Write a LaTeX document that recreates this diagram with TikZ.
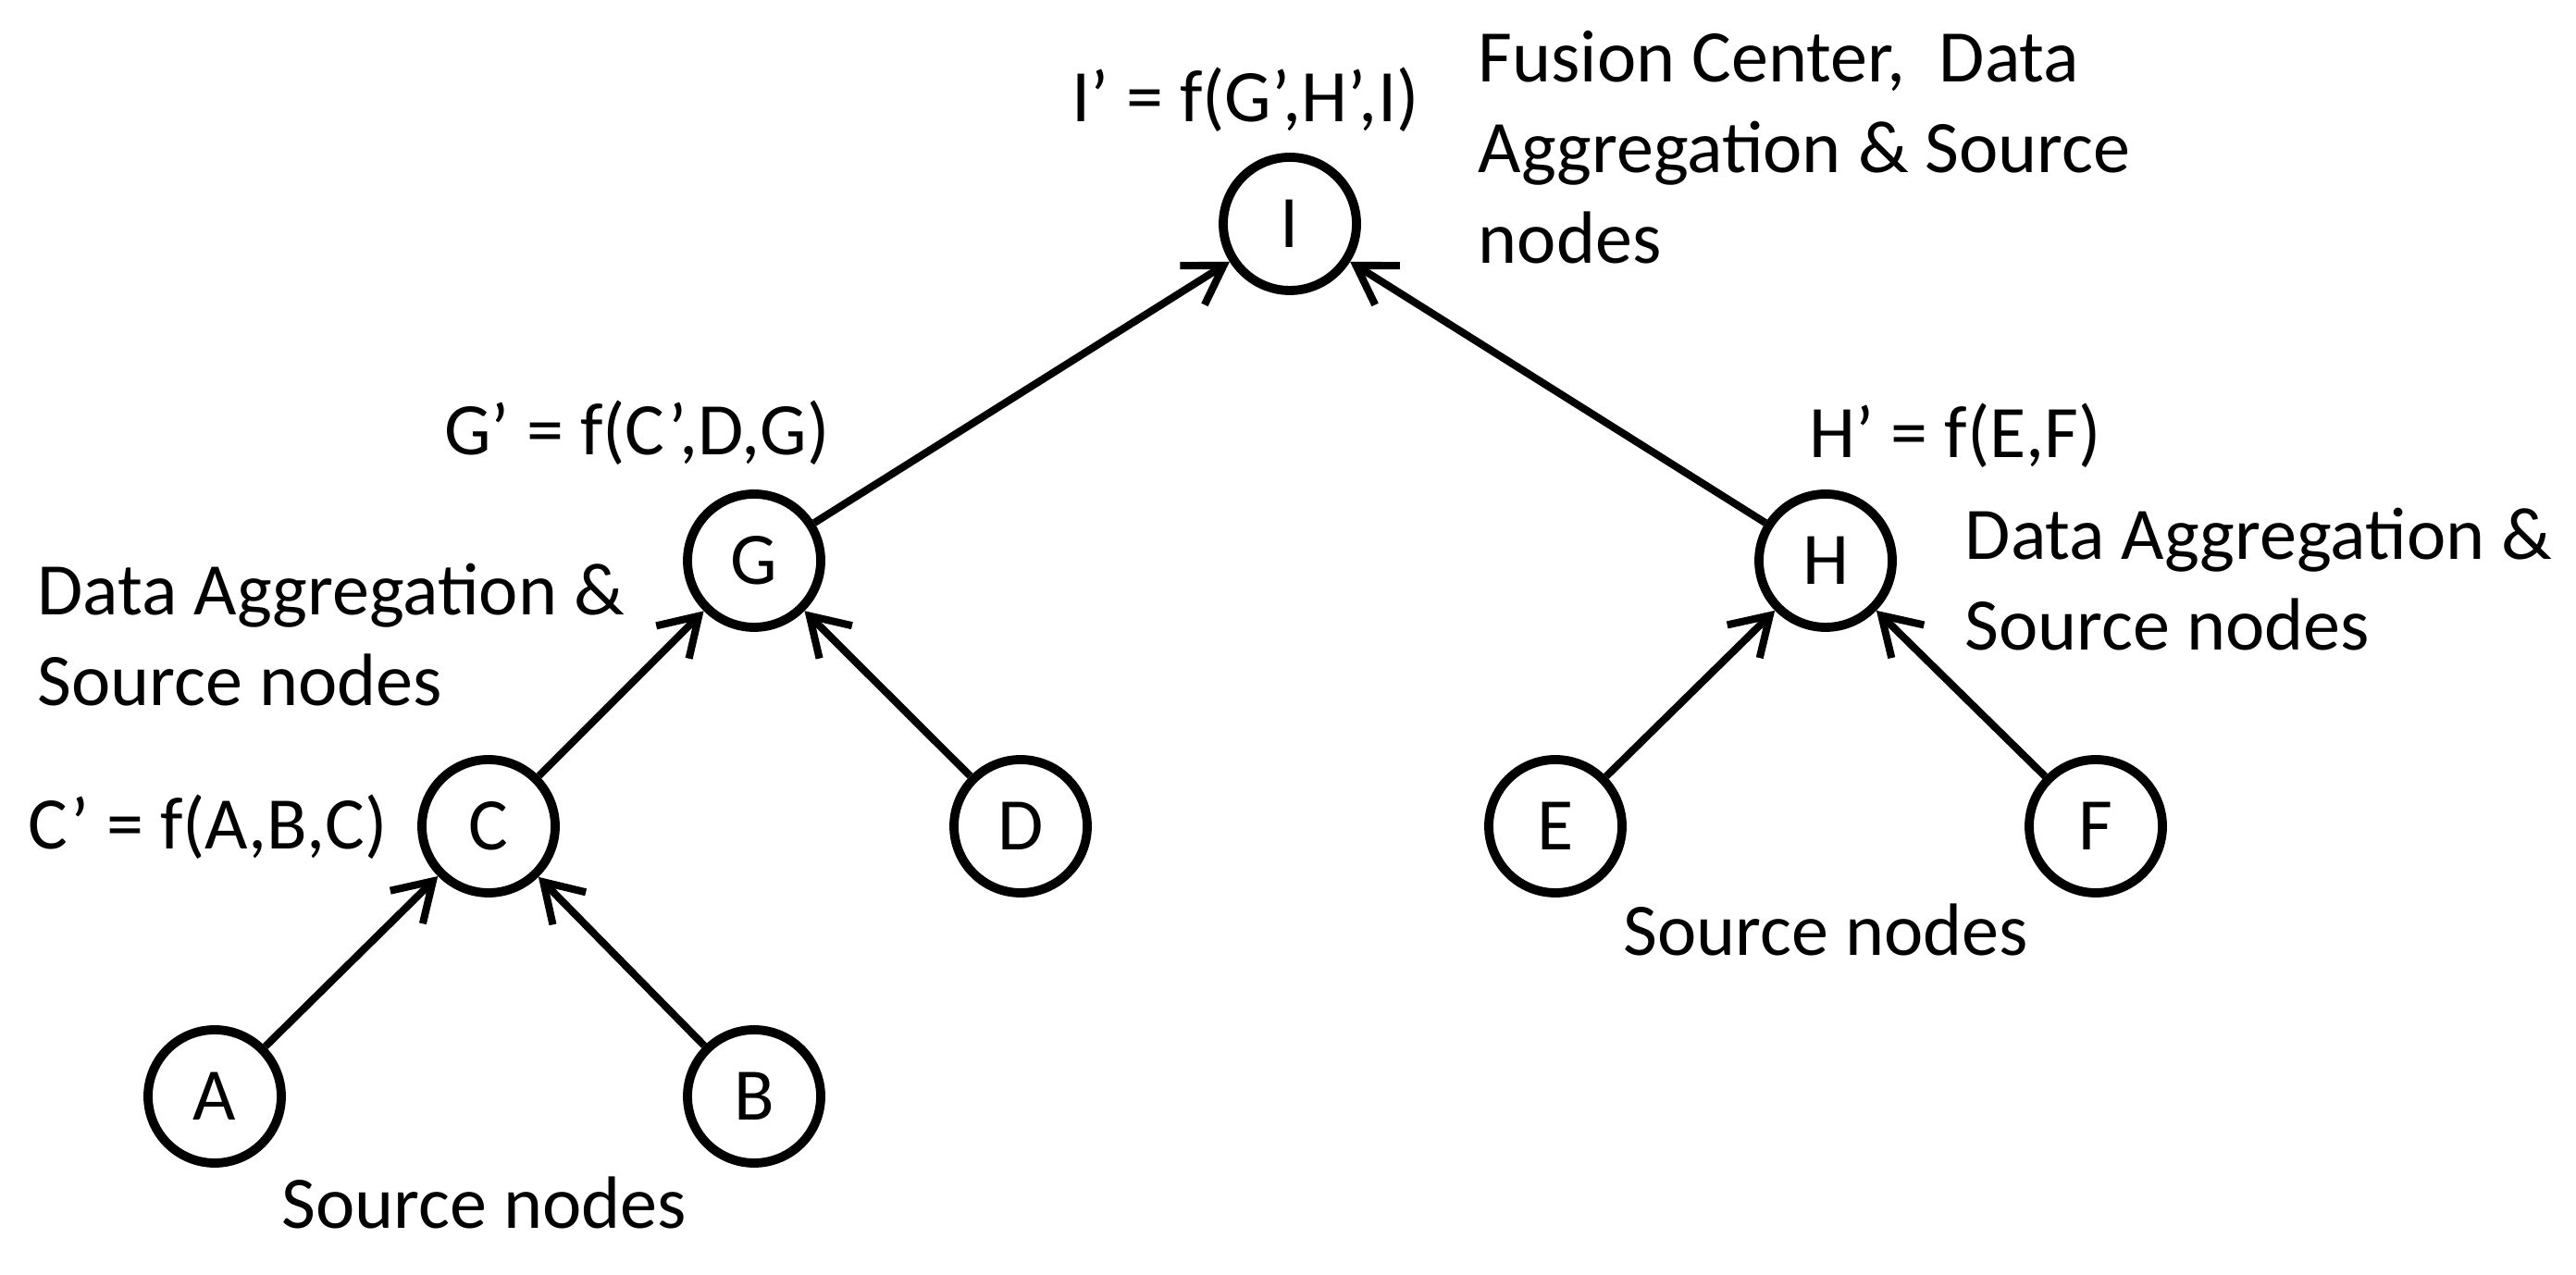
\documentclass[tikz,border=0pt]{standalone}
\usepackage{fontspec}
\setsansfont{Carlito}
\usepackage{tikz}
\usetikzlibrary{arrows.meta,positioning}

\tikzset{
  treenode/.style={circle, draw=black, line width=2.8pt, minimum size=1.44cm, inner sep=0pt},
  uplink/.style={-{Straight Barb[length=4mm,width=5mm]}, line width=2.3pt},
  note/.style={anchor=base west, inner sep=0pt, align=left}
}

\begin{document}
\begin{tikzpicture}[
  font=\sffamily\fontsize{22.8}{27.9}\selectfont,
  >=Stealth
]
  \useasboundingbox (0,0) rectangle (27.84,13.78);

  % Tree nodes
  \node[treenode] (I) at (13.94, 11.36) {I};
  \node[treenode] (G) at (8.15, 7.72) {G};
  \node[treenode] (H) at (19.73, 7.72) {H};
  \node[treenode] (C) at (5.28, 4.85) {C};
  \node[treenode] (D) at (11.03, 4.85) {D};
  \node[treenode] (E) at (16.81, 4.85) {E};
  \node[treenode] (F) at (22.65, 4.85) {F};
  \node[treenode] (A) at (2.32, 1.93) {A};
  \node[treenode] (B) at (8.15, 1.93) {B};

  % Data flows towards the fusion center
  \draw[uplink] (A) -- (C);
  \draw[uplink] (B) -- (C);
  \draw[uplink] (C) -- (G);
  \draw[uplink] (D) -- (G);
  \draw[uplink] (E) -- (H);
  \draw[uplink] (F) -- (H);
  \draw[uplink] (G) -- (I);
  \draw[uplink] (H) -- (I);

  % ----------------------------------------------------
  % Aggregation functions
  % ----------------------------------------------------
  \node[note, anchor=base east] (ifun) at (15.34, 12.46) {I’ = f(G’,H’,I)};
  \node[note, anchor=base east] (gfun) at (8.97, 8.86) {G’ = f(C’,D,G)};
  \node[note] (hfun) at (19.55, 8.83) {H’ = f(E,F)};
  \node[note, anchor=base east] (cfun) at (4.19, 4.60) {C’ = f(A,B,C)};

  % ----------------------------------------------------
  % Roles of the nodes (base = last line)
  % ----------------------------------------------------
  \node[note] (fusion) at (15.97, 10.93) {Fusion Center,\ \ Data\\Aggregation \& Source\\nodes};
  \node[note] (aggleft) at (0.40, 6.15) {Data Aggregation \&\\Source nodes};
  \node[note] (aggright) at (21.23, 6.75) {Data Aggregation \&\\Source nodes};
  \node[note] (srcleft) at (3.04, 0.50) {Source nodes};
  \node[note] (srcright) at (17.54, 3.45) {Source nodes};

\end{tikzpicture}
\end{document}
